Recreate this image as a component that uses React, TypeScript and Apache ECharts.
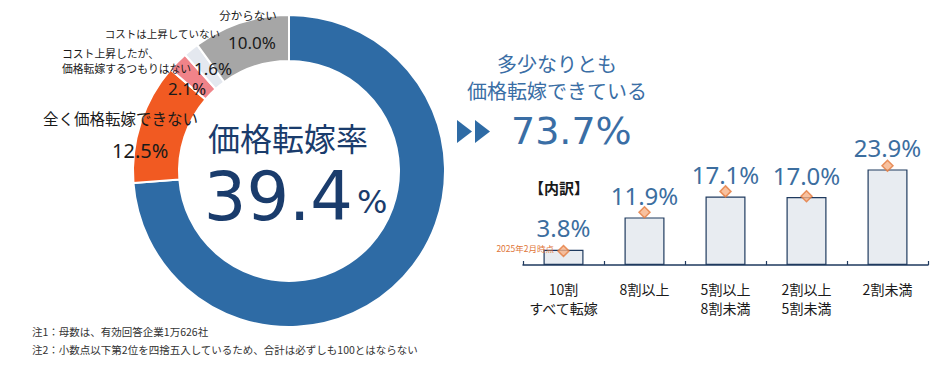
import { useEffect, useRef } from 'react';
import * as echarts from 'echarts';

// ---- data ----
const donutNames = [
  '多少なりとも価格転嫁できている',
  '全く価格転嫁できない',
  'コスト上昇したが、\n価格転嫁するつもりはない',
  'コストは上昇していない',
  '分からない',
];
const donutValues = [73.7, 12.5, 2.1, 1.6, 10.0];
const centerTitle = '価格転嫁率';
const centerValue = '39.4';
const passTitle = ['多少なりとも', '価格転嫁できている'];
const passValue = '73.7%';
const breakdownTitle = '【内訳】';
const barCategories = ['10割\nすべて転嫁', '8割以上', '5割以上\n8割未満', '2割以上\n5割未満', '2割未満'];
const barValues = [3.8, 11.9, 17.1, 17.0, 23.9];
const prevValues = [3.5, 13.2, 18.4, 17.2, 24.8];
const prevLabel = '2025年2月時点';
const notes = [
  '注1：母数は、有効回答企業1万626社',
  '注2：小数点以下第2位を四捨五入しているため、合計は必ずしも100とはならない',
];

// ---- styles / layout ----
const donutColors = ['#2e6ba5', '#f15a22', '#f08389', '#e4e8ef', '#a6a6a6'];
const JP = '"Noto Sans CJK JP", "Noto Sans", sans-serif';
const NUM = '"Noto Sans", "Noto Sans CJK JP", sans-serif';
const BIG = '"DejaVu Sans", "Noto Sans", sans-serif';

// label placements for donut slices (index -> name/value positions)
const donutLabelLayout: any[] = [
  null,
  { nameLines: [{ x: 43, y: 118, align: 'left' }], nameSize: 15.5, val: { x: 112, y: 150, align: 'left' }, valSize: 20 },
  { nameLines: [{ x: 62, y: 53, align: 'left' }, { x: 62, y: 68, align: 'left' }], nameSize: 10.8, val: { x: 168, y: 88, align: 'left' }, valSize: 17 },
  { nameLines: [{ x: 220, y: 33, align: 'right' }], nameSize: 10.5, val: { x: 194, y: 68, align: 'left' }, valSize: 17 },
  { nameLines: [{ x: 248, y: 15, align: 'center' }], nameSize: 11.5, val: { x: 252, y: 42, align: 'center' }, valSize: 17 },
];

function txt(x: number, y: number, text: string, font: string, fill: string, align = 'left', z = 10) {
  return {
    type: 'text',
    x,
    y,
    z,
    silent: true,
    style: { text, font, fill, textAlign: align, textVerticalAlign: 'middle', align, verticalAlign: 'middle' },
  };
}

export default function App() {
  const ref = useRef<HTMLDivElement>(null);
  useEffect(() => {
    if (!ref.current) return;
    const chart = echarts.init(ref.current, undefined, { renderer: 'svg' });

    const graphics: any[] = [];
    donutLabelLayout.forEach((l, i) => {
      if (!l) return;
      const lines = donutNames[i].split('\n');
      lines.forEach((line, k) => {
        const p = l.nameLines[k];
        graphics.push(txt(p.x, p.y, line, `${l.nameSize}px ${JP}`, '#1a1a1a', p.align));
      });
      graphics.push(txt(l.val.x, l.val.y, donutValues[i].toFixed(1) + '%', `${l.valSize}px ${NUM}`, '#1a1a1a', l.val.align));
    });

    graphics.push(txt(288, 137, centerTitle, `32px ${JP}`, '#1a3c6c', 'center'));
    graphics.push(txt(353, 197, centerValue, `67px ${BIG}`, '#1a3c6c', 'right'));
    graphics.push(txt(357, 202, '%', `32px ${BIG}`, '#1a3c6c', 'left'));

    graphics.push(txt(557, 63, passTitle[0], `20px ${JP}`, '#3a6ea5', 'center'));
    graphics.push(txt(557, 90, passTitle[1], `20px ${JP}`, '#3a6ea5', 'center'));
    graphics.push({ type: 'polygon', silent: true, shape: { points: [[457, 120], [457, 143], [472, 131.5]] }, style: { fill: '#2e6ba5' } });
    graphics.push({ type: 'polygon', silent: true, shape: { points: [[475, 120], [475, 143], [490, 131.5]] }, style: { fill: '#2e6ba5' } });
    graphics.push(txt(511, 131, passValue, `38px ${BIG}`, '#3a6ea5', 'left'));

    graphics.push(txt(529, 187, breakdownTitle, `bold 15px ${JP}`, '#1a1a1a', 'left'));
    graphics.push(txt(554, 248, prevLabel, `8.5px ${JP}`, '#e0763a', 'right'));

    graphics.push(txt(32, 331, notes[0], `10.5px ${JP}`, '#333333', 'left'));
    graphics.push(txt(32, 349, notes[1], `10.5px ${JP}`, '#333333', 'left'));

    chart.setOption({
      animation: false,
      backgroundColor: '#ffffff',
      grid: { left: 523, width: 405, top: 165, height: 100, containLabel: false },
      xAxis: {
        type: 'category',
        data: barCategories,
        axisLine: { lineStyle: { color: '#1f3a5f', width: 1.5 } },
        axisTick: { show: true, inside: true, length: 4, lineStyle: { color: '#1f3a5f', width: 1.2 } },
        axisLabel: { interval: 0, fontSize: 14, lineHeight: 19, color: '#1a1a1a', margin: 14, fontFamily: JP },
      },
      yAxis: { type: 'value', min: 0, max: 25, show: false, splitLine: { show: false } },
      series: [
        {
          type: 'pie',
          center: [289, 171],
          radius: [110, 156],
          startAngle: 90,
          clockwise: true,
          silent: true,
          label: { show: false },
          labelLine: { show: false },
          itemStyle: { borderColor: '#ffffff', borderWidth: 2 },
          data: donutValues.map((v, i) => ({ value: v, name: donutNames[i], itemStyle: { color: donutColors[i] } })),
        },
        {
          type: 'bar',
          data: barValues,
          barWidth: 40,
          silent: true,
          itemStyle: { color: '#e8ecf1', borderColor: '#1f3a5f', borderWidth: 1.2 },
          label: {
            show: true,
            position: 'top',
            distance: 10,
            formatter: (p: any) => Number(p.value).toFixed(1) + '%',
            fontSize: 24,
            color: '#3c6e9f',
            fontFamily: NUM,
          },
        },
        {
          type: 'scatter',
          data: prevValues,
          symbol: 'diamond',
          symbolSize: 11,
          silent: true,
          z: 5,
          itemStyle: { color: '#f6b187', borderColor: '#e37a3e', borderWidth: 1.5 },
        },
      ],
      graphic: graphics,
    });
    return () => chart.dispose();
  }, []);
  return (
    <div
      ref={ref}
      style={{ position: 'fixed', left: 0, top: 0, width: 942, height: 379, background: '#fff' }}
    />
  );
}
